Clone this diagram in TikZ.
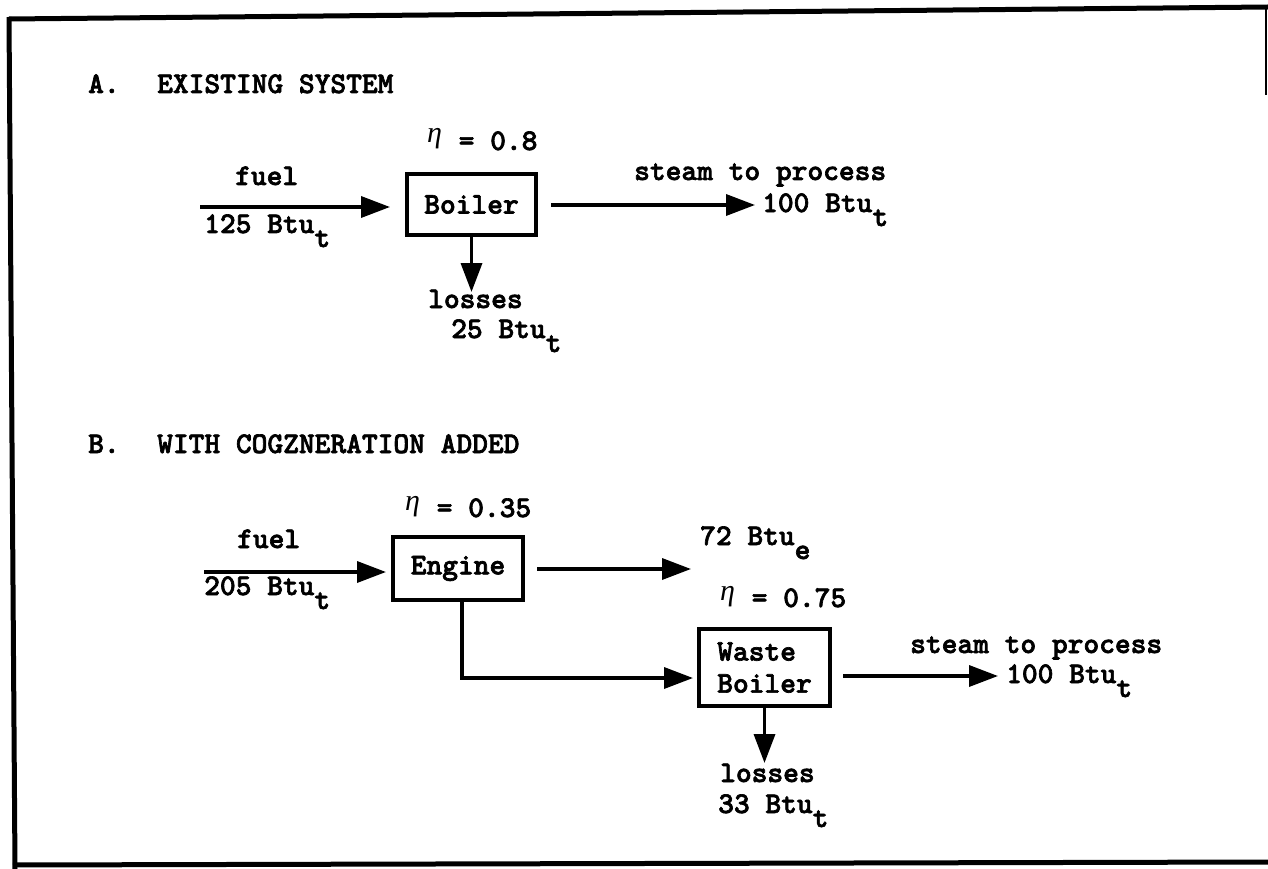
\documentclass[tikz,border=0pt]{standalone}
\usepackage{fontspec}
\newfontfamily\tw{lmmonolt10-bold.otf}[FakeBold=2.2]
\newfontfamily\etaf{Liberation Serif}
\usetikzlibrary{arrows.meta}
\newcommand{\lowch}[1]{\raisebox{-14pt}{#1}}
\newcommand{\etach}{\makebox[15.75pt][l]{\raisebox{7pt}{\etaf\itshape η}}}
\begin{document}
\begin{tikzpicture}[x=1pt,y=-1pt,
  twfont/.style={font=\tw\fontsize{30}{32}\selectfont},
  txt/.style={twfont, anchor=base west, inner sep=0pt},
  box/.style={twfont, draw, line width=4pt, inner sep=0pt, anchor=center},
  arr/.style={line width=3.5pt, -{Triangle[length=29pt,width=21pt]}},
  framel/.style={line width=5pt}]
\useasboundingbox (0,0) rectangle (1268,869);
% frame
\draw[framel] (9,19) -- (1268,7);
\draw[framel] (9,17) -- (15,869);
\draw[framel] (13,865) -- (1268,862);
\draw[line width=2pt] (1266,7) -- (1266,95);

% ---- A. existing system
\node[txt] (ha) at (88,93) {A.};
\node[txt] (ta) at (157,93) {EXISTING SYSTEM};
\node[box, minimum width=129pt, minimum height=61pt] (boilerA) at (471.5,204.5) {Boiler};
\node[txt] (etaA) at (427,150) {\etach\ = 0.8};
\node[txt] (fuelAt) at (235,185) {fuel};
\node[txt] (fuelAv) at (204,233) {125 Btu\lowch{t}};
\node[txt] (steamAt) at (634,180) {steam to process};
\node[txt] (steamAv) at (762,212) {100 Btu\lowch{t}};
\node[txt] (lossAt) at (428,308) {losses};
\node[txt] (lossAv) at (451,338) {25 Btu\lowch{t}};
\coordinate (fuelA) at (200,207);
\coordinate (steamA) at (755,205);
\coordinate (lossA) at (471.5,292);
\draw[arr, shorten >=15pt] (fuelA) -- (boilerA.west |- fuelA);
\draw[arr, shorten <=13pt] (boilerA.east |- steamA) -- (steamA);
\draw[arr] (boilerA.south) -- (lossA);

% ---- B. with cogeneration
\node[txt] (hb) at (88,453) {B.};
\node[txt] (tb) at (157,453) {WITH COGZNERATION ADDED};
\node[box, minimum width=130pt, minimum height=63pt] (engine) at (458,568.5) {Engine};
\node[box, minimum width=131pt, minimum height=77pt, align=left] (waste) at (764.5,667.5) {Waste\\Boiler};
\node[txt] (etaE) at (405,517) {\etach\ = 0.35};
\node[txt] (etaW) at (720,607) {\etach\ = 0.75};
\node[txt] (fuelBt) at (237,548) {fuel};
\node[txt] (fuelBv) at (204,595) {205 Btu\lowch{t}};
\node[txt] (elecBv) at (700,545) {72 Btu\lowch{e}};
\node[txt] (steamBt) at (910,653) {steam to process};
\node[txt] (steamBv) at (1006,683) {100 Btu\lowch{t}};
\node[txt] (lossBt) at (720,782) {losses};
\node[txt] (lossBv) at (718,813) {33 Btu\lowch{t}};
\coordinate (fuelB) at (204,572);
\coordinate (elecB) at (691,569);
\coordinate (bend) at (462,678);
\coordinate (steamB) at (998,676);
\coordinate (lossB) at (764.5,763);
\draw[arr, shorten >=5pt] (fuelB) -- (engine.west |- fuelB);
\draw[arr, shorten <=12pt] (engine.east |- elecB) -- (elecB);
\draw[arr, shorten >=4pt] (engine.south -| bend) -- (bend) -- (waste.west |- bend);
\draw[arr, shorten <=11pt] (waste.east |- steamB) -- (steamB);
\draw[arr] (waste.south) -- (lossB);
\end{tikzpicture}
\end{document}
